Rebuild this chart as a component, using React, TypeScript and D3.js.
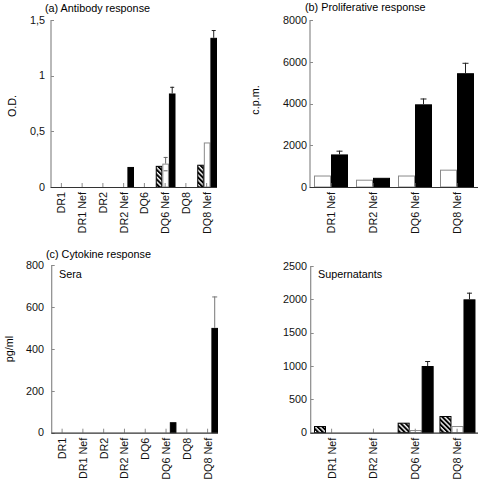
import React from "react";
import * as d3 from "d3";

const cats8 = ["DR1", "DR1 Nef", "DR2", "DR2 Nef", "DQ6", "DQ6 Nef", "DQ8", "DQ8 Nef"];
const cats4 = ["DR1 Nef", "DR2 Nef", "DQ6 Nef", "DQ8 Nef"];

// (a) Antibody response (O.D.)
const abHatched = [0, 0, 0, 0, 0, 0.19, 0, 0.2];
const abWhite = [0, 0, 0, 0, 0, 0.21, 0, 0.4];
const abBlack = [0, 0, 0, 0.18, 0, 0.84, 0, 1.34];
const abWhiteErr = [0, 0, 0, 0, 0, 0.06, 0, 0];
const abBlackErr = [0, 0, 0, 0, 0, 0.06, 0, 0.07];
const abTicks = [0, 0.5, 1, 1.5];
const abTickLabels = ["0", "0,5", "1", "1,5"];

// (b) Proliferative response (c.p.m.)
const prWhite = [550, 350, 550, 830];
const prBlack = [1560, 440, 3960, 5450];
const prWhiteErr = [0, 0, 0, 0];
const prBlackErr = [180, 0, 280, 500];
const prTicks = [0, 2000, 4000, 6000, 8000];
const prTickLabels = ["0", "2000", "4000", "6000", "8000"];

// (c) Cytokine response, sera (pg/ml)
const seraBlack = [0, 0, 0, 0, 0, 50, 0, 500];
const seraBlackErr = [0, 0, 0, 0, 0, 0, 0, 150];
const seraZero = [0, 0, 0, 0, 0, 0, 0, 0];
const seraTicks = [0, 200, 400, 600, 800];
const seraTickLabels = ["0", "200", "400", "600", "800"];

// (d) Supernatants (pg/ml)
const supHatched = [100, 0, 150, 250];
const supWhite = [0, 0, 40, 100];
const supBlack = [0, 0, 1000, 2000];
const supBlackErr = [0, 0, 75, 100];
const supZero = [0, 0, 0, 0];
const supTicks = [0, 500, 1000, 1500, 2000, 2500];
const supTickLabels = ["0", "500", "1000", "1500", "2000", "2500"];

const FONT = "'Liberation Sans', Arial, Helvetica, sans-serif";
const FS = 10.8;
const AXIS_GRAY = "#8a8a8a";

type Series = { values: number[]; errs: number[]; kind: "hatch" | "white" | "black"; errColor?: string };

type PanelProps = {
  x0: number;
  x1: number;
  yZero: number;
  yTop: number;
  max: number;
  ticks: number[];
  tickLabels: string[];
  labelRight: number;
  categories: string[];
  series: Series[];
  groupStart: number;
  groupEnd: number;
  capW: number;
};

function Panel(p: PanelProps) {
  const y = d3.scaleLinear().domain([0, p.max]).range([p.yZero, p.yTop]);
  const x = d3.scaleBand<string>().domain(p.categories).range([p.x0, p.x1]).padding(0);
  const bw = x.bandwidth();
  const inner = d3
    .scaleBand<number>()
    .domain(p.series.map((_, i) => i))
    .range([p.groupStart, p.groupEnd])
    .padding(0);
  const iw = inner.bandwidth();

  return (
    <g>
      {/* bars */}
      {p.series.map((s, si) =>
        s.values.map((v, ci) => {
          if (v <= 0) return null;
          const bx = (x(p.categories[ci]) as number) + (inner(si) as number);
          const by = y(v);
          const h = p.yZero - by;
          const fill = s.kind === "black" ? "#000" : s.kind === "white" ? "#fff" : "url(#hatch)";
          const stroke = s.kind === "white" ? "#8a8a8a" : "#000";
          return (
            <rect
              key={`b${si}-${ci}`}
              x={bx + 0.5}
              y={by + 0.5}
              width={iw - 1}
              height={Math.max(h - 0.5, 0)}
              fill={fill}
              stroke={stroke}
              strokeWidth={1}
            />
          );
        })
      )}
      {/* error bars */}
      {p.series.map((s, si) =>
        s.errs.map((e, ci) => {
          if (e <= 0) return null;
          const cx = (x(p.categories[ci]) as number) + (inner(si) as number) + iw / 2;
          const yv = y(s.values[ci]);
          const ye = y(s.values[ci] + e);
          const col = s.errColor || "#222";
          return (
            <g key={`e${si}-${ci}`} stroke={col} strokeWidth={1}>
              <line x1={cx} x2={cx} y1={yv} y2={ye} />
              <line x1={cx - p.capW / 2} x2={cx + p.capW / 2} y1={ye + 0.5} y2={ye + 0.5} />
              {s.kind === "white" ? (
                <line
                  x1={cx - p.capW / 2}
                  x2={cx + p.capW / 2}
                  y1={y(s.values[ci] - e) + 0.5}
                  y2={y(s.values[ci] - e) + 0.5}
                />
              ) : null}
            </g>
          );
        })
      )}
      {/* y axis */}
      <line x1={p.x0} x2={p.x0} y1={p.yZero} y2={y(p.max)} stroke={AXIS_GRAY} strokeWidth={1.2} />
      {p.ticks.map((t, i) => (
        <g key={`yt${i}`}>
          <line x1={p.x0} x2={p.x0 + 3} y1={Math.round(y(t)) + 0.5} y2={Math.round(y(t)) + 0.5} stroke={AXIS_GRAY} />
          <text
            x={p.labelRight}
            y={y(t)}
            dy="0.35em"
            textAnchor="end"
            fontSize={FS}
            fontFamily={FONT}
            fill="#111"
          >
            {p.tickLabels[i]}
          </text>
        </g>
      ))}
      {/* x axis */}
      {p.categories.map((c) => {
        const cx = (x(c) as number) + bw / 2;
        return (
          <g key={`xt${c}`}>
            <line x1={cx} x2={cx} y1={p.yZero} y2={p.yZero - 4} stroke={AXIS_GRAY} />
            <text
              transform={`translate(${cx + 4},${p.yZero + 5}) rotate(-90)`}
              textAnchor="end"
              fontSize={FS}
              fontFamily={FONT}
              fill="#111"
            >
              {c}
            </text>
          </g>
        );
      })}
      <line x1={p.x0 - 0.5} x2={p.x1} y1={p.yZero + 0.5} y2={p.yZero + 0.5} stroke="#333" strokeWidth={1.2} />
    </g>
  );
}

export default function App() {
  return (
    <svg width={481} height={484} style={{ position: "absolute", left: 0, top: 0, background: "#fff" }}>
      <defs>
        <pattern id="hatch" patternUnits="userSpaceOnUse" width={3.4} height={3.4} patternTransform="rotate(-45)">
          <rect x={0} y={0} width={3.4} height={3.4} fill="#fff" />
          <rect x={0} y={0} width={2} height={3.4} fill="#000" />
        </pattern>
      </defs>
      <rect x={0} y={0} width={481} height={484} fill="#fff" />

      {/* (a) */}
      <text x={45} y={12} fontSize={FS} fontFamily={FONT}>(a) Antibody response</text>
      <text transform="translate(16,106) rotate(-90)" textAnchor="middle" fontSize={FS} fontFamily={FONT}>O.D.</text>
      <Panel
        x0={51}
        x1={217}
        yZero={187}
        yTop={20}
        max={1.5}
        ticks={abTicks}
        tickLabels={abTickLabels}
        labelRight={45}
        categories={cats8}
        series={[
          { values: abHatched, errs: cats8.map(() => 0), kind: "hatch" },
          { values: abWhite, errs: abWhiteErr, kind: "white", errColor: "#666" },
          { values: abBlack, errs: abBlackErr, kind: "black" },
        ]}
        groupStart={1}
        groupEnd={20.75}
        capW={4}
      />

      {/* (b) */}
      <text x={305} y={11} fontSize={FS} fontFamily={FONT}>(b) Proliferative response</text>
      <text transform="translate(259,100) rotate(-90)" textAnchor="middle" fontSize={FS} fontFamily={FONT}>c.p.m.</text>
      <Panel
        x0={310}
        x1={478}
        yZero={187}
        yTop={20}
        max={8000}
        ticks={prTicks}
        tickLabels={prTickLabels}
        labelRight={307}
        categories={cats4}
        series={[
          { values: prWhite, errs: prWhiteErr, kind: "white" },
          { values: prBlack, errs: prBlackErr, kind: "black" },
        ]}
        groupStart={4}
        groupEnd={38}
        capW={6}
      />

      {/* (c) */}
      <text x={46} y={258} fontSize={FS} fontFamily={FONT}>(c) Cytokine response</text>
      <text x={59} y={278} fontSize={FS} fontFamily={FONT}>Sera</text>
      <text transform="translate(13,349) rotate(-90)" textAnchor="middle" fontSize={FS} fontFamily={FONT}>pg/ml</text>
      <Panel
        x0={51.7}
        x1={218}
        yZero={432.7}
        yTop={265}
        max={800}
        ticks={seraTicks}
        tickLabels={seraTickLabels}
        labelRight={44}
        categories={cats8}
        series={[
          { values: seraZero, errs: seraZero, kind: "hatch" },
          { values: seraZero, errs: seraZero, kind: "white" },
          { values: seraBlack, errs: seraBlackErr, kind: "black", errColor: "#777" },
        ]}
        groupStart={1}
        groupEnd={20.79}
        capW={5}
      />

      {/* (d) */}
      <text x={318} y={278} fontSize={FS} fontFamily={FONT}>Supernatants</text>
      <Panel
        x0={310.7}
        x1={478}
        yZero={432.7}
        yTop={266}
        max={2500}
        ticks={supTicks}
        tickLabels={supTickLabels}
        labelRight={307}
        categories={cats4}
        series={[
          { values: supHatched, errs: supZero, kind: "hatch" },
          { values: supWhite, errs: supZero, kind: "white" },
          { values: supBlack, errs: supBlackErr, kind: "black" },
        ]}
        groupStart={3.3}
        groupEnd={39.3}
        capW={5}
      />
    </svg>
  );
}
